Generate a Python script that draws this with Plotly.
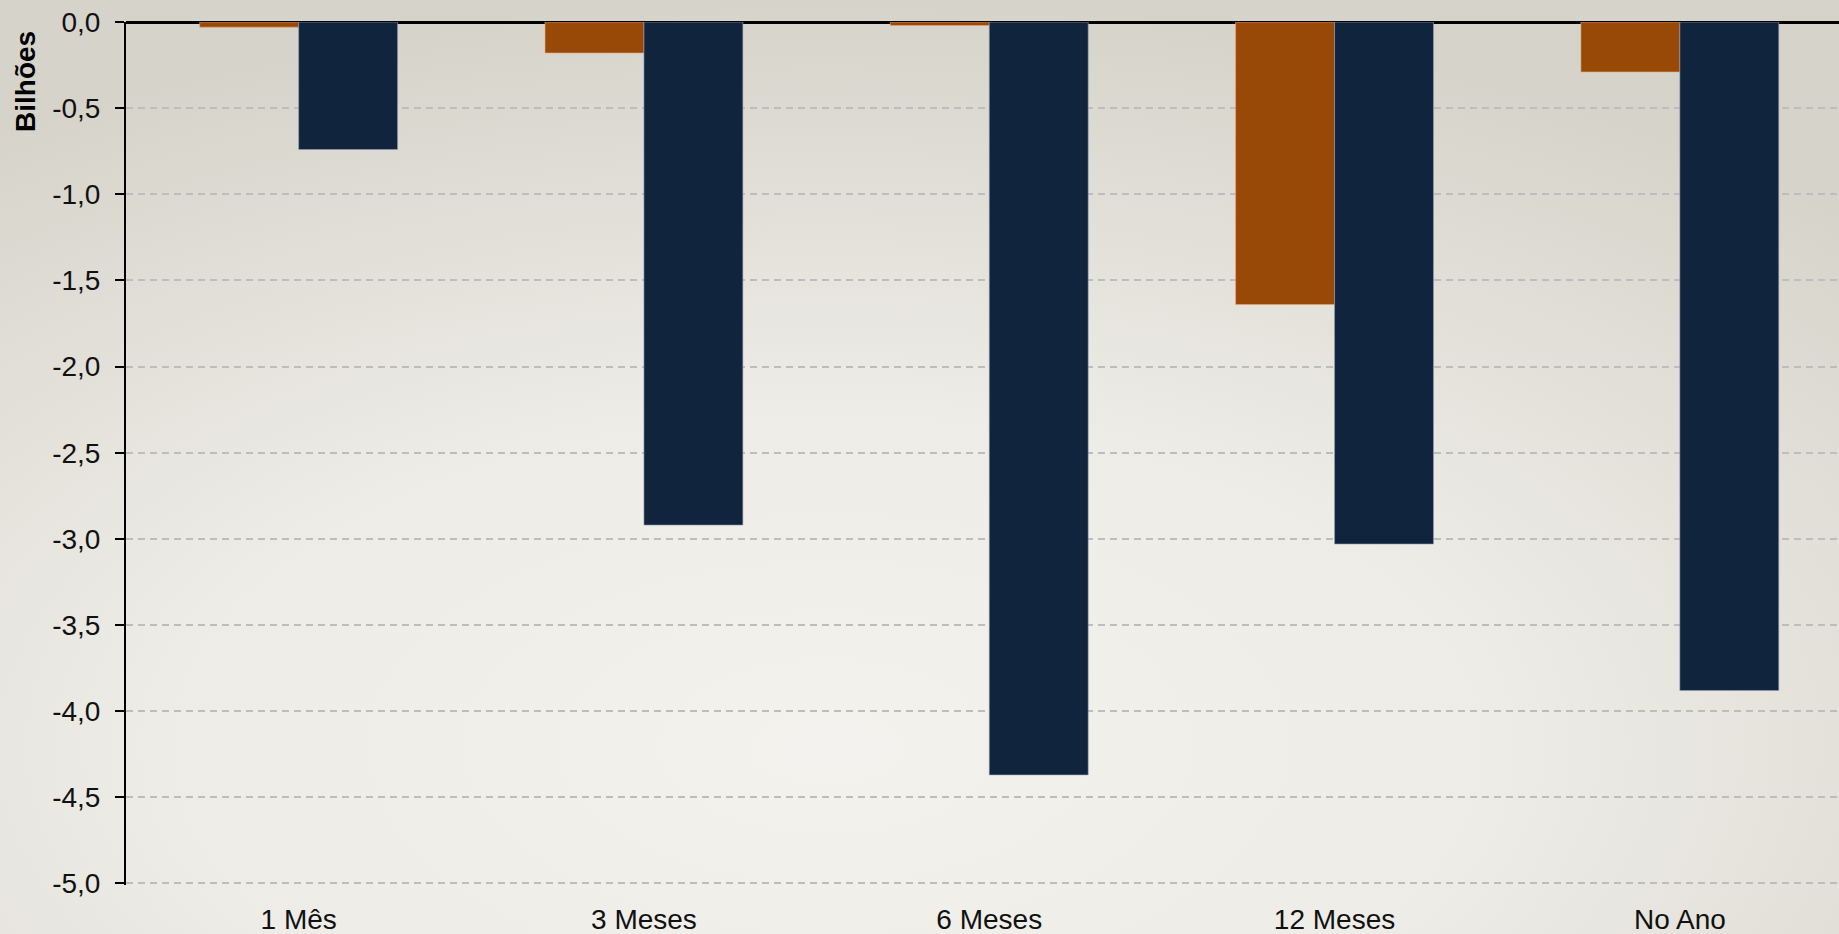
import base64
import plotly.graph_objects as go

# Períodos e valores (bilhões)
categorias = ["1 Mês", "3 Meses", "6 Meses", "12 Meses", "No Ano"]
serie_laranja = [-0.03, -0.18, -0.02, -1.64, -0.29]
serie_azul = [-0.74, -2.92, -4.37, -3.03, -3.88]

tick_valores = [0.0, -0.5, -1.0, -1.5, -2.0, -2.5, -3.0, -3.5, -4.0, -4.5, -5.0]
tick_rotulos = ["0,0", "-0,5", "-1,0", "-1,5", "-2,0", "-2,5", "-3,0", "-3,5", "-4,0", "-4,5", "-5,0"]

LARANJA = "#984807"
AZUL = "#10243E"
FONTE = "Liberation Sans, Arial, sans-serif"

W, H = 1839, 934
ML, MR, MT, MB = 126, 0, 22, 49
PW, PH = W - ML - MR, H - MT - MB
Y_MIN = -5.009

# Fundo em degradê suave
svg = f"""<svg xmlns='http://www.w3.org/2000/svg' width='{W}' height='{H}' viewBox='0 0 {W} {H}'>
<defs><radialGradient id='g' cx='45%' cy='80%' r='80%' gradientUnits='objectBoundingBox'>
<stop offset='0%' stop-color='#F3F2EE'/><stop offset='45%' stop-color='#EDECE6'/>
<stop offset='100%' stop-color='#D6D3CA'/></radialGradient></defs>
<rect width='100%' height='100%' fill='url(#g)'/></svg>"""
fundo = "data:image/svg+xml;base64," + base64.b64encode(svg.encode()).decode()

fig = go.Figure()
fig.add_trace(go.Bar(
    x=categorias, y=serie_laranja, name="Série 1",
    marker=dict(color=LARANJA, line=dict(color="rgba(230,170,120,0.6)", width=1)),
))
fig.add_trace(go.Bar(
    x=categorias, y=serie_azul, name="Série 2",
    marker=dict(color=AZUL, line=dict(color="rgba(150,160,175,0.6)", width=1)),
))

fig.update_layout(
    width=W, height=H,
    margin=dict(l=ML, r=MR, t=MT, b=MB, pad=0, autoexpand=False),
    paper_bgcolor="#E8E6E0",
    plot_bgcolor="rgba(0,0,0,0)",
    barmode="group", bargap=0.427, bargroupgap=0,
    showlegend=False,
    font=dict(family=FONTE, size=28, color="#111111"),
    images=[dict(
        source=fundo, xref="paper", yref="paper",
        x=-ML / PW, y=1 + MT / PH, sizex=W / PW, sizey=H / PH,
        xanchor="left", yanchor="top", sizing="stretch", layer="below",
    )],
    xaxis=dict(
        range=[-0.5, -0.5 + PW / 345.3],
        automargin=False,
        showline=False, showgrid=False, zeroline=False,
        ticks="", ticklabelstandoff=15,
        tickfont=dict(family=FONTE, size=28, color="#111111"),
    ),
    yaxis=dict(
        range=[Y_MIN, 0],
        automargin=False,
        tickvals=tick_valores, ticktext=tick_rotulos,
        showline=True, linecolor="#000000", linewidth=2,
        ticks="outside", ticklen=9, tickwidth=2, tickcolor="#000000",
        ticklabelstandoff=9,
        showgrid=True, gridcolor="#BDBDBD", gridwidth=1.5, griddash="7px,5px",
        zeroline=True, zerolinecolor="#000000", zerolinewidth=3,
        tickfont=dict(family=FONTE, size=28, color="#111111"),
    ),
    annotations=[dict(
        text="<b>Bilhões</b>", xref="paper", yref="paper",
        x=(25 - ML) / PW, y=1 - (82 - MT) / PH,
        xanchor="center", yanchor="middle", textangle=-90, showarrow=False,
        font=dict(family=FONTE, size=28, color="#000000"),
    )],
)

fig.write_html("out.html")
